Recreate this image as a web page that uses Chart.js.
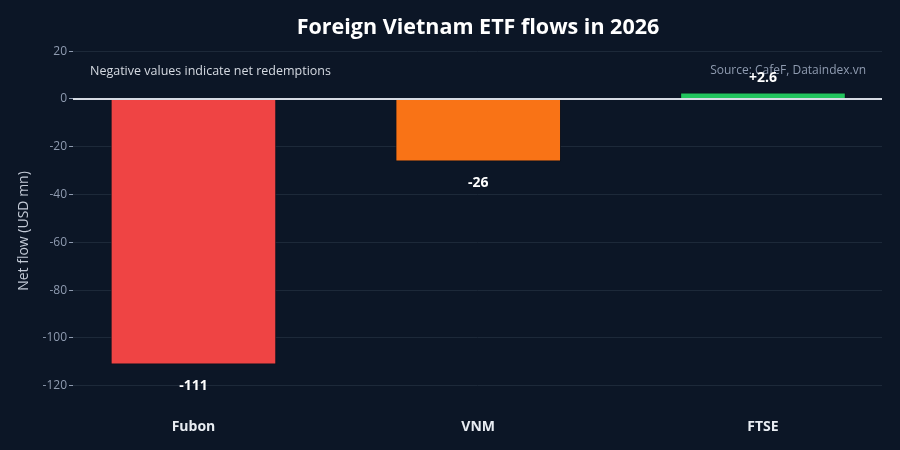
<!DOCTYPE html>
<html><head><meta charset="utf-8">
<script src="https://cdn.jsdelivr.net/npm/chart.js@4.4.1/dist/chart.umd.min.js"></script>
<style>html,body{margin:0;padding:0;background:#0c1626;}#wrap{width:900px;height:450px;}</style>
</head><body><div id="wrap"><canvas id="c" width="900" height="450"></canvas></div>
<script>
const categories = ["Fubon", "VNM", "FTSE"];
const flows = [-111, -26, 2.6];
const valueLabels = ["-111", "-26", "+2.6"];
const barColors = ["#ef4444", "#f97316", "#22c55e"];
const yTicks = [20, 0, -20, -40, -60, -80, -100, -120];

const FONT = "'Open Sans', 'Noto Sans', sans-serif";

const textPlugin = {
  id: 'texts',
  afterDraw(chart) {
    const ctx = chart.ctx;
    const ys = chart.scales.y, xs = chart.scales.x;
    ctx.save();
    // zero line
    ctx.strokeStyle = '#d6dbe3'; ctx.lineWidth = 2;
    const y0 = ys.getPixelForValue(0);
    ctx.beginPath(); ctx.moveTo(chart.chartArea.left, y0); ctx.lineTo(chart.chartArea.right, y0); ctx.stroke();
    // title
    ctx.fillStyle = '#ffffff';
    ctx.font = "bold 21.5px " + FONT;
    ctx.textAlign = 'center'; ctx.textBaseline = 'middle';
    ctx.fillText("Foreign Vietnam ETF flows in 2026", 478, 28);
    // annotations
    ctx.font = "12.5px " + FONT;
    ctx.fillStyle = '#d5dae2';
    ctx.textAlign = 'left';
    ctx.fillText("Negative values indicate net redemptions", 90, 71);
    ctx.font = "12px " + FONT;
    ctx.fillStyle = '#8f9bb0';
    ctx.textAlign = 'right';
    ctx.fillText("Source: CafeF, Dataindex.vn", 866, 71);
    // axis title
    ctx.save();
    ctx.translate(24, 231);
    ctx.rotate(-Math.PI / 2);
    ctx.textAlign = 'center';
    ctx.fillStyle = '#c3cad6';
    ctx.font = "14px " + FONT;
    ctx.fillText("Net flow (USD mn)", 0, 0);
    ctx.restore();
    // value labels
    ctx.font = "bold 14px " + FONT;
    ctx.fillStyle = '#ffffff';
    ctx.textAlign = 'center';
    flows.forEach((v, i) => {
      const x = xs.getPixelForValue(i);
      const yp = ys.getPixelForValue(v);
      const ty = v < 0 ? yp + 21.5 : yp - 15;
      ctx.fillText(valueLabels[i], x, ty);
    });
    ctx.restore();
  }
};

new Chart(document.getElementById('c'), {
  type: 'bar',
  data: {
    datasets: [{
      data: flows.map((v, i) => ({x: i, y: v})),
      backgroundColor: barColors,
      borderColor: 'rgba(10,16,28,0.8)',
      borderWidth: 1,
      barThickness: 165
    }]
  },
  options: {
    responsive: false,
    animation: false,
    layout: {padding: {top: 44, right: 18, left: 0, bottom: 0}},
    plugins: {legend: {display: false}, tooltip: {enabled: false}},
    scales: {
      x: {
        type: 'linear',
        offset: false,
        min: -0.423, max: 2.418,
        afterBuildTicks(s) { s.ticks = categories.map((c, i) => ({value: i})); },
        afterFit(s) { s.height = 44; },
        grid: {display: false, offset: false},
        border: {display: false},
        ticks: {
          callback: (v) => categories[v] ?? '',
          color: '#e8ecf2',
          font: {family: FONT, size: 14, weight: 'bold'},
          padding: 5,
          maxRotation: 0,
          autoSkip: false
        }
      },
      y: {
        min: -128.5, max: 23,
        afterBuildTicks(s) { s.ticks = yTicks.map(v => ({value: v})); },
        afterFit(s) { s.width = 73; },
        border: {display: false},
        grid: {
          color: '#1d2939',
          lineWidth: 1,
          drawTicks: true,
          tickLength: 4,
          tickColor: '#8f9bb0'
        },
        ticks: {
          color: '#8f9bb0',
          font: {family: FONT, size: 12},
          padding: 2
        }
      }
    }
  },
  plugins: [textPlugin]
});
</script></body></html>
